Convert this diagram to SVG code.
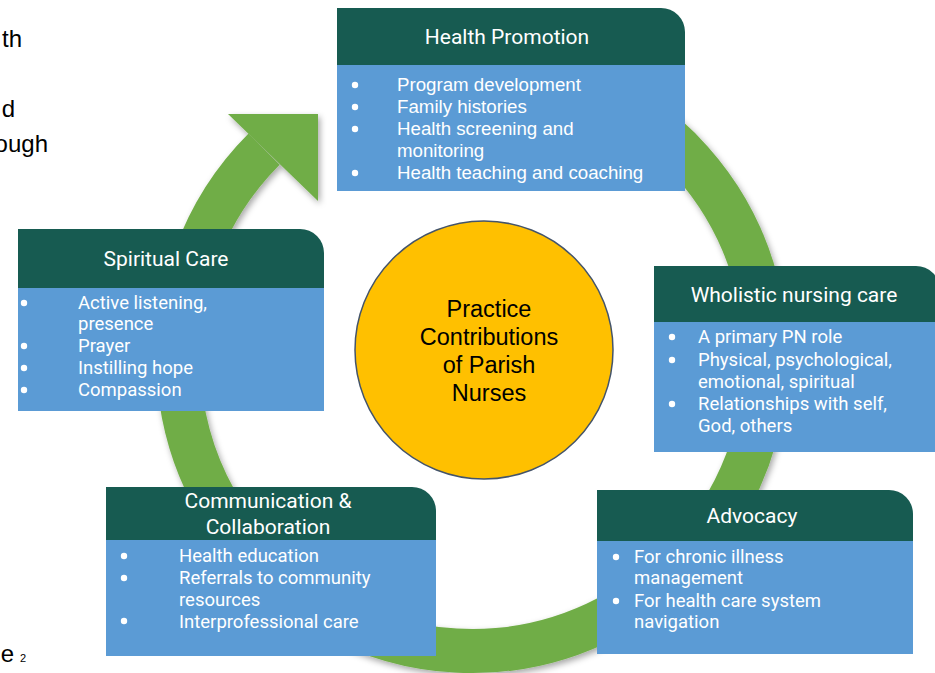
<svg xmlns="http://www.w3.org/2000/svg" width="935" height="673" viewBox="0 0 935 673">
<defs>
<filter id="sh" x="-20%" y="-20%" width="140%" height="140%">
<feDropShadow dx="2" dy="3" stdDeviation="3" flood-color="#000" flood-opacity="0.35"/>
</filter>
</defs>
<style>
.hd{fill:#175B51}
.bd{fill:#5B9BD5}
.ht{font-family:Roboto,"Liberation Sans",sans-serif;font-size:21px;fill:#fff;text-anchor:middle}
.bt{font-family:Roboto,"Liberation Sans",sans-serif;font-size:18.5px;fill:#fff}
.ba{font-family:"Liberation Sans",Arial,sans-serif;font-size:18.7px;fill:#fff}
.bu{fill:#fff}
.ct{font-family:"Liberation Sans",Arial,sans-serif;font-size:23.5px;fill:#000;text-anchor:middle}
.sl{font-family:"Liberation Sans",Arial,sans-serif;font-size:24px;fill:#000;text-anchor:end}
</style>
<rect width="935" height="673" fill="#fff"/>
<g id="slide-text">
<text class="sl" x="22" y="47">th</text>
<text class="sl" x="15" y="117">d</text>
<text class="sl" x="48" y="152">ough</text>
<text class="sl" x="14" y="662">e</text>
<text x="20" y="662" font-family="Liberation Sans, Arial, sans-serif" font-size="11" fill="#000">2</text>
</g>
<g id="connectors" filter="url(#sh)">
<polygon points="228,114 318,114 318,201" fill="#70AD47"/>
<path d="M 446.4 64.1 A 294 294 0 1 1 264.1 149.1" fill="none" stroke="#70AD47" stroke-width="44"/>
</g>
<g id="center">
<circle cx="484" cy="350" r="129" fill="#FFC000" stroke="#44546A" stroke-width="1.5"/>
<text class="ct" x="489" y="317">Practice</text>
<text class="ct" x="489" y="345">Contributions</text>
<text class="ct" x="489" y="373">of Parish</text>
<text class="ct" x="489" y="401">Nurses</text>
</g>
<g id="health-promotion">
<path class="hd" d="M337 8 H661 A24 24 0 0 1 685 32 V65 H337 Z"/>
<rect class="bd" x="337" y="65" width="348" height="126"/>
<text class="ht" x="507" y="44">Health Promotion</text>
<circle class="bu" cx="355" cy="85" r="3.2"/>
<circle class="bu" cx="355" cy="107" r="3.2"/>
<circle class="bu" cx="355" cy="129" r="3.2"/>
<circle class="bu" cx="355" cy="173" r="3.2"/>
<text class="ba" x="397" y="91">Program development</text>
<text class="ba" x="397" y="113">Family histories</text>
<text class="ba" x="397" y="135">Health screening and</text>
<text class="ba" x="397" y="157">monitoring</text>
<text class="ba" x="397" y="179">Health teaching and coaching</text>
</g>
<g id="spiritual-care">
<path class="hd" d="M18 229 H300 A24 24 0 0 1 324 253 V288 H18 Z"/>
<rect class="bd" x="18" y="288" width="306" height="123"/>
<text class="ht" x="166" y="266">Spiritual Care</text>
<circle class="bu" cx="24" cy="303" r="3.2"/>
<circle class="bu" cx="24" cy="346" r="3.2"/>
<circle class="bu" cx="24" cy="368" r="3.2"/>
<circle class="bu" cx="24" cy="390" r="3.2"/>
<text class="bt" x="78" y="309">Active listening,</text>
<text class="bt" x="78" y="330">presence</text>
<text class="bt" x="78" y="352">Prayer</text>
<text class="bt" x="78" y="374">Instilling hope</text>
<text class="bt" x="78" y="396">Compassion</text>
</g>
<g id="wholistic-care">
<path class="hd" d="M654 266 H916 A24 24 0 0 1 940 290 V322 H654 Z"/>
<rect class="bd" x="654" y="322" width="286" height="130"/>
<text class="ht" x="794" y="302">Wholistic nursing care</text>
<circle class="bu" cx="672" cy="337" r="3.2"/>
<circle class="bu" cx="672" cy="360" r="3.2"/>
<circle class="bu" cx="672" cy="404" r="3.2"/>
<text class="bt" x="698" y="343">A primary PN role</text>
<text class="bt" x="698" y="366">Physical, psychological,</text>
<text class="bt" x="698" y="388">emotional, spiritual</text>
<text class="bt" x="698" y="410">Relationships with self,</text>
<text class="bt" x="698" y="432">God, others</text>
</g>
<g id="communication">
<path class="hd" d="M106 487 H412 A24 24 0 0 1 436 511 V540 H106 Z"/>
<rect class="bd" x="106" y="540" width="330" height="116"/>
<text class="ht" x="268" y="508">Communication &amp;</text>
<text class="ht" x="268" y="534">Collaboration</text>
<circle class="bu" cx="124" cy="556" r="3.2"/>
<circle class="bu" cx="124" cy="578" r="3.2"/>
<circle class="bu" cx="124" cy="621" r="3.2"/>
<text class="bt" x="179" y="562">Health education</text>
<text class="bt" x="179" y="584">Referrals to community</text>
<text class="bt" x="179" y="606">resources</text>
<text class="bt" x="179" y="628">Interprofessional care</text>
</g>
<g id="advocacy">
<path class="hd" d="M597 490 H889 A24 24 0 0 1 913 514 V541 H597 Z"/>
<rect class="bd" x="597" y="541" width="316" height="113"/>
<text class="ht" x="752" y="523">Advocacy</text>
<circle class="bu" cx="616" cy="557" r="3.2"/>
<circle class="bu" cx="616" cy="601" r="3.2"/>
<text class="bt" x="634" y="563">For chronic illness</text>
<text class="bt" x="634" y="584">management</text>
<text class="bt" x="634" y="607">For health care system</text>
<text class="bt" x="634" y="628">navigation</text>
</g>
</svg>
